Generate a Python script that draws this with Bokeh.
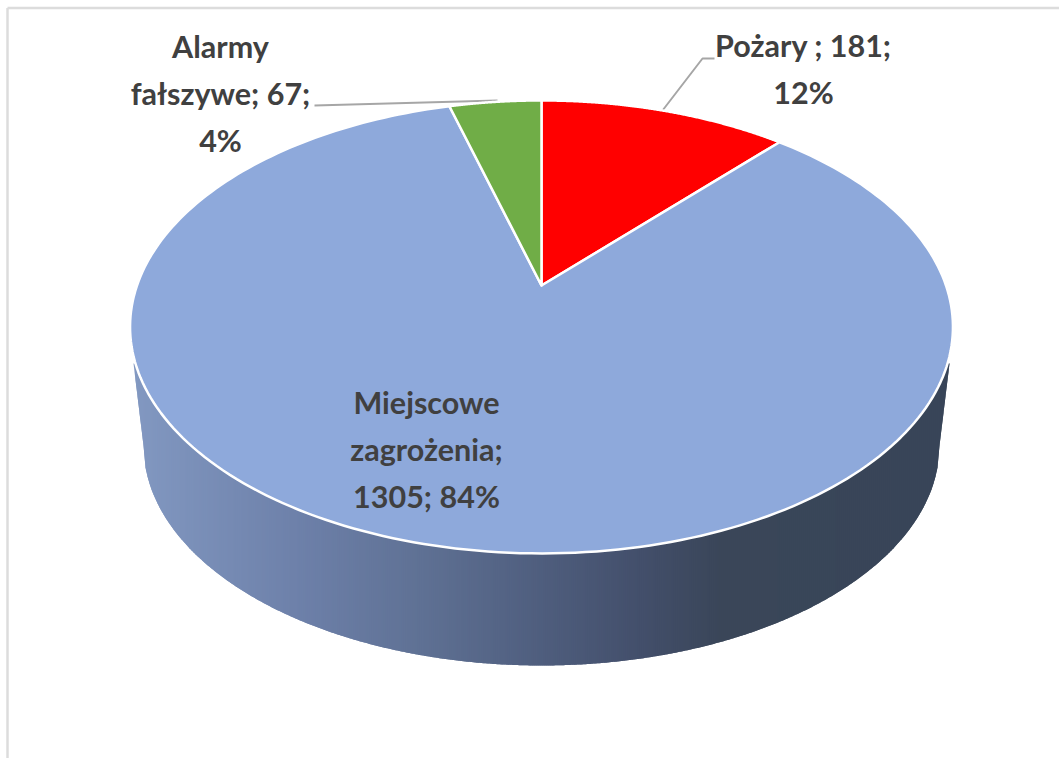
import numpy as np
from bokeh.plotting import figure
from bokeh.models import Range1d, ColumnDataSource
from bokeh.core.properties import value
from bokeh.embed import file_html
from bokeh.resources import INLINE

categories = ["Pożary", "Miejscowe zagrożenia", "Alarmy fałszywe"]
counts = [181, 1305, 67]
colors = ["#FF0000", "#8EA9DB", "#70AD47"]
label_lines = [
    ["Pożary ; 181;", "12%"],
    ["Miejscowe", "zagrożenia;", "1305; 84%"],
    ["Alarmy", "fałszywe; 67;", "4%"],
]
label_centers_x = [803, 426, 220]
label_first_y = [44, 401, 45]
LINE_STEP = 47

# perspective projection of the pie's circular top
AX, AY = 541.0, 285.0
A, B, K = 404.5, 218.9, 0.183
BOT_CY, BOT_RX, BOT_RY = 445.0, 398.0, 220.0

def project(theta):
    s, c = np.sin(theta), np.cos(theta)
    d = 1 + K * c
    return AX + A * s / d, AY - B * c / d

W, H = 1059, 758
p = figure(width=W, height=H, x_range=Range1d(0, W), y_range=Range1d(H, 0),
           output_backend="svg", toolbar_location=None, min_border=0,
           x_axis_type=None, y_axis_type=None)
p.grid.visible = False
p.outline_line_color = None
p.background_fill_color = "white"
p.border_fill_color = "white"

# chart frame
p.line([7, 7], [H, 7.5], line_color="#DCDCDC", line_width=2.5)
p.line([7, W], [7.5, 7.5], line_color="#DCDCDC", line_width=2.5)

# side wall with horizontal gradient
stop_x = [133, 300, 420, 540, 640, 720, 949]
stop_rgb = [(0x82, 0x98, 0xC1), (0x6D, 0x80, 0xA9), (0x5F, 0x71, 0x94),
            (0x4F, 0x5E, 0x7E), (0x43, 0x4F, 0x6B), (0x3A, 0x46, 0x59),
            (0x38, 0x45, 0x58)]
EDGE_TOP = 363.0
edges = np.arange(133, 949, 2.0)
xs, ys, fills = [], [], []
def wall_bottom(x):
    dx = np.clip((x - AX) / BOT_RX, -1, 1)
    y = BOT_CY + BOT_RY * np.sqrt(1 - dx * dx)
    if x < AX - BOT_RX:
        y = EDGE_TOP + (x - 133) / (AX - BOT_RX - 133) * (BOT_CY - EDGE_TOP)
    if x > AX + BOT_RX:
        y = EDGE_TOP + (949 - x) / (949 - (AX + BOT_RX)) * (BOT_CY - EDGE_TOP)
    return y
for x0 in edges:
    x1 = min(x0 + 2, 949.0)
    x2 = min(x0 + 4, 949.0)   # overlap the next strip so no seam shows
    rgb = [np.interp((x0 + x1) / 2, stop_x, [c[j] for c in stop_rgb]) for j in range(3)]
    xs.append([x0, x1, x2, x2, x1, x0])
    ys.append([EDGE_TOP, EDGE_TOP, EDGE_TOP, wall_bottom(x2), wall_bottom(x1), wall_bottom(x0)])
    fills.append("#%02x%02x%02x" % tuple(int(round(v)) for v in rgb))
p.patches(xs, ys, fill_color=fills, line_color=None)

# leader lines (beneath the pie)
p.line([314, 497], [105, 100], line_color="#A6A6A6", line_width=2)
p.line([714, 702, 662], [58, 58, 110], line_color="#A6A6A6", line_width=2)

# slices
total = sum(counts)
angles = np.cumsum([0] + counts) / total * 2 * np.pi
sx, sy = [], []
for a0, a1 in zip(angles[:-1], angles[1:]):
    t = np.linspace(a0, a1, 240)
    ex, ey = project(t)
    sx.append([AX] + list(ex))
    sy.append([AY] + list(ey))
p.patches("x", "y", source=ColumnDataSource(dict(x=sx, y=sy, c=colors, n=categories)),
          fill_color="c", line_color="white", line_width=2.5, line_join="round")

# data labels
tx, ty, tt = [], [], []
for lines, cx, y0 in zip(label_lines, label_centers_x, label_first_y):
    for j, line in enumerate(lines):
        tx.append(cx); ty.append(y0 + j * LINE_STEP); tt.append(line)
p.text(tx, ty, text=tt, text_font=value("Lato"), text_font_style="bold",
       text_font_size="30.5px", text_color="#404040", text_align="center",
       text_baseline="middle")

open("out.html", "w").write(file_html(p, INLINE))
